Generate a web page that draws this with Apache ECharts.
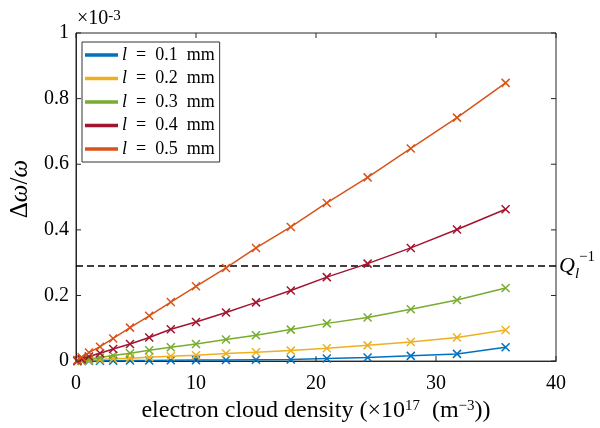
<!DOCTYPE html>
<html><head><meta charset="utf-8">
<script src="https://cdn.jsdelivr.net/npm/echarts@6/dist/echarts.min.js"></script>
<style>html,body{margin:0;padding:0;background:#fff}#c{width:600px;height:428px}</style>
</head><body><div id="c"></div>
<script>
// electron cloud density (x10^17 m^-3)
const density = [0.12, 0.47, 1.08, 2.0, 3.1, 4.5, 6.1, 7.9, 10.0, 12.5, 15.0, 17.9, 20.9, 24.3, 27.9, 31.75, 35.8];
// Δω/ω in units of 1e-3
const l01 = [0, 0.0003, 0.0006, 0.001, 0.0013, 0.0016, 0.002, 0.0025, 0.003, 0.0035, 0.004, 0.005, 0.008, 0.011, 0.016, 0.022, 0.042];
const l02 = [0.0005, 0.001, 0.003, 0.005, 0.007, 0.009, 0.012, 0.015, 0.018, 0.023, 0.027, 0.032, 0.039, 0.048, 0.058, 0.072, 0.095];
const l03 = [0.001, 0.003, 0.006, 0.011, 0.017, 0.024, 0.033, 0.042, 0.052, 0.066, 0.079, 0.096, 0.115, 0.133, 0.158, 0.186, 0.223];
const l04 = [0.001, 0.006, 0.014, 0.024, 0.037, 0.052, 0.072, 0.097, 0.119, 0.148, 0.179, 0.215, 0.256, 0.297, 0.345, 0.401, 0.463];
const l05 = [0.003, 0.012, 0.026, 0.044, 0.069, 0.102, 0.138, 0.180, 0.228, 0.284, 0.345, 0.409, 0.482, 0.560, 0.648, 0.742, 0.848];
const seriesNames = ['0.1', '0.2', '0.3', '0.4', '0.5'];
const seriesData = [l01, l02, l03, l04, l05];
const colors = ['#0072BD', '#EDB120', '#77AC30', '#A2142F', '#D95319'];
const qInv = 0.295;
const xTicks = {min: 0, max: 40, interval: 10};
const yTicks = {min: 0, max: 1, interval: 0.2};
const xTickVals = [0, 10, 20, 30, 40];
const yTickVals = [0, 0.2, 0.4, 0.6, 0.8, 1];

const FONT = 'Liberation Serif';
const AXC = '#262626';
const chart = echarts.init(document.getElementById('c'), null, {renderer: 'canvas'});
const crossPath = 'path://M0,0L10,10M10,0L0,10';
const series = seriesData.map((vals, i) => {
  const s = {
    name: seriesNames[i],
    type: 'line',
    data: density.map((d, j) => [d, vals[j]]),
    color: colors[i],
    lineStyle: {width: 1.5, color: colors[i]},
    symbol: crossPath,
    symbolSize: 8,
    showSymbol: true,
    itemStyle: {color: 'rgba(0,0,0,0)', borderColor: colors[i], borderWidth: 1.5},
    z: 3 + i,
    animation: false
  };
  if (i === 4) {
    s.markLine = {
      silent: true, symbol: 'none', animation: false,
      data: [{yAxis: qInv}],
      lineStyle: {type: [7, 4], color: '#000', width: 1.5},
      label: {
        position: 'end', distance: 3,
        formatter: '{q|Q}{s|l}{p|−1}',
        rich: {
          q: {fontFamily: FONT, fontStyle: 'italic', fontSize: 22, color: '#000', lineHeight: 32},
          s: {fontFamily: FONT, fontStyle: 'italic', fontSize: 15, color: '#000', verticalAlign: 'bottom', lineHeight: 32},
          p: {fontFamily: FONT, fontSize: 15, color: '#000', verticalAlign: 'top', lineHeight: 32}
        }
      }
    };
  }
  return s;
});
// inward tick marks on all four sides, placed through the axes' own scales
const TL = 5;
series.push({
  type: 'custom', silent: true, clip: false, z: 20, animation: false,
  data: xTickVals.map(v => [v, yTicks.min]),
  renderItem: (params, api) => {
    const v = api.value(0);
    const b = api.coord([v, yTicks.min]);
    const t = api.coord([v, yTicks.max]);
    return {type: 'group', children: [
      {type: 'line', shape: {x1: b[0], y1: b[1], x2: b[0], y2: b[1] - TL}, style: {stroke: AXC, lineWidth: 1}},
      {type: 'line', shape: {x1: t[0], y1: t[1], x2: t[0], y2: t[1] + TL}, style: {stroke: AXC, lineWidth: 1}}
    ]};
  }
});
series.push({
  type: 'custom', silent: true, clip: false, z: 20, animation: false,
  data: yTickVals.map(v => [xTicks.min, v]),
  renderItem: (params, api) => {
    const v = api.value(1);
    const l = api.coord([xTicks.min, v]);
    const r = api.coord([xTicks.max, v]);
    return {type: 'group', children: [
      {type: 'line', shape: {x1: l[0], y1: l[1], x2: l[0] + TL, y2: l[1]}, style: {stroke: AXC, lineWidth: 1}},
      {type: 'line', shape: {x1: r[0], y1: r[1], x2: r[0] - TL, y2: r[1]}, style: {stroke: AXC, lineWidth: 1}}
    ]};
  }
});

const axisCommon = () => ({
  axisLine: {show: true, onZero: false, lineStyle: {color: AXC, width: 1}},
  axisTick: {show: false},
  splitLine: {show: false}
});

chart.setOption({
  animation: false,
  backgroundColor: '#fff',
  grid: {left: 76, right: 44, top: 33, bottom: 65, show: true, borderColor: AXC, borderWidth: 1, backgroundColor: 'rgba(0,0,0,0)'},
  legend: {
    orient: 'vertical', left: 82, top: 42,
    padding: [3, 5, 3, 3], itemGap: 3.5,
    itemWidth: 31, itemHeight: 1.5, icon: 'rect',
    borderColor: '#333', borderWidth: 1, backgroundColor: '#fff',
    data: seriesNames,
    formatter: n => '{i|l}\u2002=\u2002' + n + '\u2002mm',
    textStyle: {
      fontFamily: FONT, fontSize: 18, color: '#000', lineHeight: 20,
      rich: {i: {fontFamily: FONT, fontStyle: 'italic', fontSize: 18, color: '#000'}}
    }
  },
  xAxis: Object.assign(axisCommon(), {
    type: 'value', position: 'bottom', min: xTicks.min, max: xTicks.max, interval: xTicks.interval,
    axisLabel: {fontFamily: FONT, fontSize: 20, color: '#000', margin: 13},
    name: 'electron cloud density (×10{s|17}\u2002(m{s|−3}))',
    nameLocation: 'middle', nameGap: 27,
    nameTextStyle: {fontFamily: FONT, fontSize: 24, color: '#000',
      rich: {s: {fontFamily: FONT, fontSize: 15, color: '#000', verticalAlign: 'top'}}}
  }),
  yAxis: Object.assign(axisCommon(), {
    type: 'value', position: 'left', min: yTicks.min, max: yTicks.max, interval: yTicks.interval,
    axisLabel: {fontFamily: FONT, fontSize: 20, color: '#000', margin: 7},
    name: 'Δ{i|ω}/{i|ω}',
    nameLocation: 'middle', nameGap: 33, nameRotate: 90,
    nameTextStyle: {fontFamily: FONT, fontSize: 25, color: '#000', padding: [0, 0, 0, 16],
      rich: {i: {fontFamily: FONT, fontStyle: 'italic', fontSize: 25, color: '#000'}}}
  }),
  graphic: [{
    type: 'text', left: 77, top: 9,
    style: {
      text: '×10{s|-3}', fontFamily: FONT, fontSize: 20, fill: '#000',
      rich: {s: {fontFamily: FONT, fontSize: 15, fill: '#000', verticalAlign: 'top'}}
    }
  }],
  series: series
});
</script></body></html>
